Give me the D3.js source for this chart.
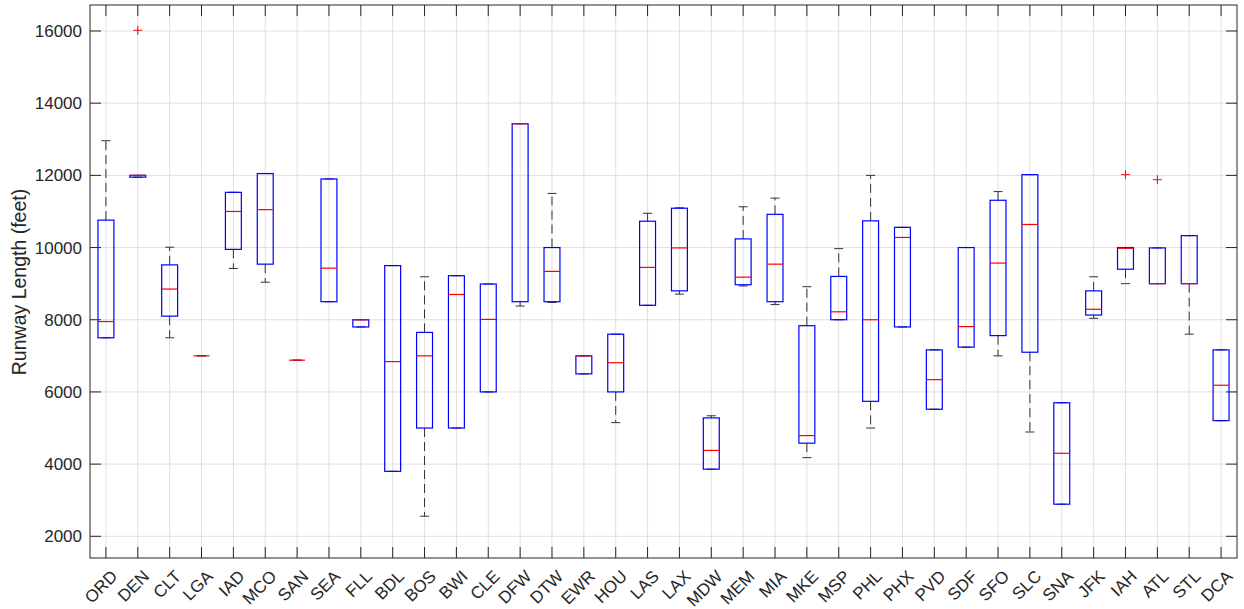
<!DOCTYPE html>
<html>
<head>
<meta charset="utf-8">
<script src="https://cdn.jsdelivr.net/npm/d3@7"></script>
<style>
  body { margin: 0; background: #fff; }
  text { font-family: "Liberation Sans", Arial, sans-serif; fill: #262626; }
</style>
</head>
<body>
<div id="chart"></div>
<script>
// datos
const airports = ["ORD","DEN","CLT","LGA","IAD","MCO","SAN","SEA","FLL","BDL","BOS","BWI","CLE","DFW","DTW","EWR","HOU","LAS","LAX","MDW","MEM","MIA","MKE","MSP","PHL","PHX","PVD","SDF","SFO","SLC","SNA","JFK","IAH","ATL","STL","DCA"]
const whiskerLow = [7500,11950,7500,7000,9420,9040,6880,8500,7800,3800,2557,5000,6000,8380,8480,6500,5150,8400,8710,3860,8936,8420,4180,8000,5000,7800,5520,7240,7000,4890,2890,8040,9000,9000,7600,5204]
const q1 = [7500,11950,8100,7000,9950,9540,6880,8500,7800,3800,5000,5000,6000,8500,8500,6500,6000,8400,8800,3860,8970,8500,4580,8000,5740,7800,5520,7240,7560,7100,2890,8130,9400,9000,9000,5204]
const median = [7950,12000,8850,7000,11000,11050,6880,9430,8000,6840,7000,8700,8010,13430,9340,7000,6810,9450,9990,4380,9180,9540,4790,8220,8000,10280,6340,7810,9570,10640,4300,8290,9980,9000,9000,6185]
const q3 = [10760,12000,9520,7000,11530,12050,6880,11900,8000,9500,7650,9220,8990,13430,10000,7000,7600,10730,11090,5280,10240,10920,7835,9200,10740,10560,7165,10000,11310,12020,5700,8800,10000,9990,10330,7165]
const whiskerHigh = [12960,12000,10010,7000,11530,12050,6880,11900,8000,9500,9190,9220,8990,13430,11500,7000,7600,10950,11100,5340,11130,11370,8915,9970,12000,10560,7165,10000,11550,12020,5700,9190,10000,9990,10330,7165]
const outliers = [
  { airport: "DEN", value: 16020 },
  { airport: "IAH", value: 12020 },
  { airport: "ATL", value: 11880 }
]
const yTicks = [2000, 4000, 6000, 8000, 10000, 12000, 14000, 16000]

const boxes = airports.map((a, i) => ({
  airport: a, lo: whiskerLow[i], q1: q1[i], med: median[i], q3: q3[i], hi: whiskerHigh[i]
}))

const width = 1244, height = 609
const mLeft = 90, mRight = 1237, mTop = 5, mBottom = 558

const svg = d3.select("#chart").append("svg")
  .attr("width", width)
  .attr("height", height)

// Escalas
const x = d3.scaleLinear().domain([0.5, airports.length + 0.5]).range([mLeft, mRight])
const y = d3.scaleLinear().domain([1399, 16720]).range([mBottom, mTop])
const bw = (x(2) - x(1)) * 0.5

// Rejilla
svg.append("g").selectAll("line").data(airports).enter().append("line")
  .attr("x1", (d, i) => x(i + 1)).attr("x2", (d, i) => x(i + 1))
  .attr("y1", mTop).attr("y2", mBottom)
  .attr("stroke", "#e0e0e0")
svg.append("g").selectAll("line").data(yTicks).enter().append("line")
  .attr("x1", mLeft).attr("x2", mRight)
  .attr("y1", d => y(d)).attr("y2", d => y(d))
  .attr("stroke", "#e0e0e0")

// Bigotes
const g = svg.append("g")
g.selectAll(".wup").data(boxes).enter().append("line")
  .attr("x1", (d, i) => x(i + 1)).attr("x2", (d, i) => x(i + 1))
  .attr("y1", d => y(d.q3)).attr("y2", d => y(d.hi))
  .attr("stroke", "#333").attr("stroke-dasharray", "9,5")
g.selectAll(".wdn").data(boxes).enter().append("line")
  .attr("x1", (d, i) => x(i + 1)).attr("x2", (d, i) => x(i + 1))
  .attr("y1", d => y(d.q1)).attr("y2", d => y(d.lo))
  .attr("stroke", "#333").attr("stroke-dasharray", "9,5")
g.selectAll(".capup").data(boxes).enter().append("line")
  .attr("x1", (d, i) => x(i + 1) - 4.5).attr("x2", (d, i) => x(i + 1) + 4.5)
  .attr("y1", d => y(d.hi)).attr("y2", d => y(d.hi))
  .attr("stroke", "#333")
g.selectAll(".capdn").data(boxes).enter().append("line")
  .attr("x1", (d, i) => x(i + 1) - 4.5).attr("x2", (d, i) => x(i + 1) + 4.5)
  .attr("y1", d => y(d.lo)).attr("y2", d => y(d.lo))
  .attr("stroke", "#333")

// Cajas
g.selectAll("rect").data(boxes).enter().append("rect")
  .attr("x", (d, i) => x(i + 1) - bw / 2)
  .attr("y", d => y(d.q3))
  .attr("width", bw)
  .attr("height", d => y(d.q1) - y(d.q3))
  .attr("fill", "none")
  .attr("stroke", "#0000ff")
  .attr("stroke-width", 1.2)

// Medianas
g.selectAll(".med").data(boxes).enter().append("line")
  .attr("x1", (d, i) => x(i + 1) - bw / 2).attr("x2", (d, i) => x(i + 1) + bw / 2)
  .attr("y1", d => y(d.med)).attr("y2", d => y(d.med))
  .attr("stroke", "#ff0000").attr("stroke-width", 1.2)

// Atipicos
const outG = g.selectAll(".out").data(outliers).enter().append("g")
  .attr("transform", d => `translate(${x(airports.indexOf(d.airport) + 1)}, ${y(d.value)})`)
outG.append("line").attr("x1", -4.5).attr("x2", 4.5).attr("stroke", "#ff0000")
outG.append("line").attr("y1", -4.5).attr("y2", 4.5).attr("stroke", "#ff0000")

// Marco y marcas
svg.append("rect")
  .attr("x", mLeft).attr("y", mTop)
  .attr("width", mRight - mLeft).attr("height", mBottom - mTop)
  .attr("fill", "none").attr("stroke", "#262626")

const ticks = svg.append("g").attr("stroke", "#262626")
airports.forEach((a, i) => {
  ticks.append("line").attr("x1", x(i + 1)).attr("x2", x(i + 1)).attr("y1", mBottom).attr("y2", mBottom - 11)
  ticks.append("line").attr("x1", x(i + 1)).attr("x2", x(i + 1)).attr("y1", mTop).attr("y2", mTop + 11)
})
yTicks.forEach(t => {
  ticks.append("line").attr("x1", mLeft).attr("x2", mLeft + 11).attr("y1", y(t)).attr("y2", y(t))
  ticks.append("line").attr("x1", mRight).attr("x2", mRight - 11).attr("y1", y(t)).attr("y2", y(t))
})

// Etiquetas
svg.append("g").selectAll("text").data(yTicks).enter().append("text")
  .attr("x", mLeft - 8)
  .attr("y", d => y(d))
  .attr("dy", "0.35em")
  .attr("text-anchor", "end")
  .style("font-size", "17px")
  .text(d => d)

svg.append("g").selectAll("text").data(airports).enter().append("text")
  .attr("transform", (d, i) => `translate(${x(i + 1) + 4}, ${mBottom + 11}) rotate(-45)`)
  .attr("text-anchor", "end")
  .attr("dy", "0.7em")
  .style("font-size", "17px")
  .text(d => d)

svg.append("text")
  .attr("transform", `translate(26, 282) rotate(-90)`)
  .attr("text-anchor", "middle")
  .style("font-size", "19.5px")
  .text("Runway Length (feet)")
</script>
</body>
</html>
